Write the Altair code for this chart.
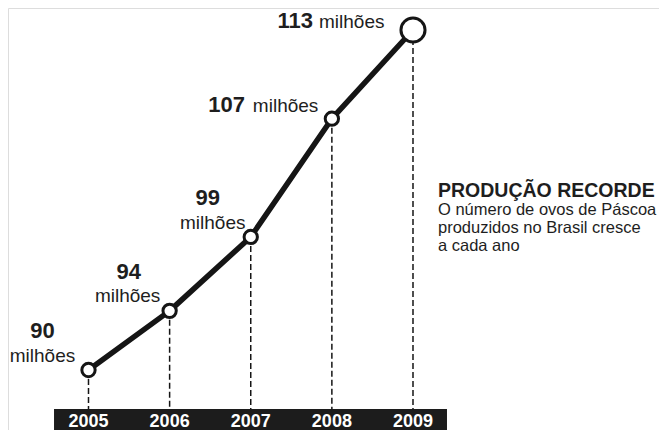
import altair as alt
import pandas as pd

# ---- data ----
years = [2005, 2006, 2007, 2008, 2009]
values = [90, 94, 99, 107, 113]
number_labels = ["90", "94", "99", "107", "113"]
unit_label = "milhões"
point_kind = ["small", "small", "small", "small", "big"]
title_text = "PRODUÇÃO RECORDE"
body_lines = ["O número de ovos de Páscoa", "produzidos no Brasil cresce", "a cada ano"]

# ---- layout / style ----
W, H = 651, 422
X_DOMAIN = [2004.0077, 2012.0324]
Y_DOMAIN = [85.941, 114.488]
BAR_X = [2004.575, 2009.419]
BAR_TOP = 87.362
INK = "#151515"
FONT = "Liberation Sans"

df = pd.DataFrame({"year": years, "value": values, "num": number_labels,
                   "unit": [unit_label] * len(years), "kind": point_kind})

xs = alt.Scale(domain=X_DOMAIN, nice=False, zero=False)
ys = alt.Scale(domain=Y_DOMAIN, nice=False, zero=False)
X = alt.X("year:Q", scale=xs, axis=None)
Y = alt.Y("value:Q", scale=ys, axis=None)

base = alt.Chart(df)

bar = alt.Chart(pd.DataFrame({"x0": [BAR_X[0]], "x1": [BAR_X[1]],
                              "y0": [Y_DOMAIN[0]], "y1": [BAR_TOP]})).mark_rect(
    color="#1c1c1c").encode(
    x=alt.X("x0:Q", scale=xs, axis=None), x2="x1:Q",
    y=alt.Y("y0:Q", scale=ys, axis=None), y2="y1:Q")

year_text = base.mark_text(font=FONT, fontSize=18, fontWeight="bold", color="white",
                           baseline="alphabetic", align="center", dy=-3).encode(
    x=X, y=alt.Y("yb:Q", scale=ys, axis=None), text="year:N"
).transform_calculate(yb=str(Y_DOMAIN[0]))

dashes = base.mark_rule(color=INK, strokeWidth=1.5, strokeDash=[6, 3]).encode(
    x=X, y=Y, y2=alt.datum(BAR_TOP))

line = base.mark_line(color=INK, strokeWidth=5.5, strokeCap="round", strokeJoin="round").encode(
    x=X, y=Y)

points = base.mark_point(shape="circle", filled=True, fill="white", stroke=INK,
                         strokeWidth=3, opacity=1).encode(
    x=X, y=Y,
    size=alt.Size("kind:N", scale=alt.Scale(domain=["small", "big"], range=[177, 580]),
                  legend=None))

# label offsets in pixels relative to each point: (num_align, num_dx, num_dy, unit_align, unit_dx, unit_dy)
offsets = [
    ("center", -46, -32, "center", -46, -8),
    ("center", -41, -32, "center", -42, -9),
    ("center", -43, -32, "center", -38, -8),
    ("right", -87, -7, "left", -79, -7),
    ("right", -100, -2, "left", -94, -2),
]

labels = []
for i, (na, ndx, ndy, ua, udx, udy) in enumerate(offsets):
    sub = alt.Chart(df.iloc[[i]])
    labels.append(sub.mark_text(font=FONT, fontSize=22, fontWeight="bold", color="#1e1e1e",
                                align=na, baseline="alphabetic", dx=ndx, dy=ndy).encode(
        x=X, y=Y, text="num:N"))
    labels.append(sub.mark_text(font=FONT, fontSize=19, color="#1e1e1e",
                                align=ua, baseline="alphabetic", dx=udx, dy=udy).encode(
        x=X, y=Y, text="unit:N"))

title = alt.Chart(pd.DataFrame({"t": [title_text]})).mark_text(
    font=FONT, fontSize=19.5, fontWeight="bold", color="#1e1e1e",
    align="left", baseline="alphabetic").encode(
    x=alt.value(430), y=alt.value(189), text="t:N")

body = alt.Chart(pd.DataFrame({"t": [body_lines]})).mark_text(
    font=FONT, fontSize=16.5, color="#1e1e1e", align="left", baseline="alphabetic",
    lineHeight=18).encode(
    x=alt.value(430), y=alt.value(207), text="t")

chart = alt.layer(bar, year_text, dashes, line, points, *labels, title, body).properties(
    width=W, height=H, padding=0, autosize=alt.AutoSizeParams(type="none")
).configure_view(stroke=None).configure(background="white")

chart.save("out.html", embed_options={"renderer": "svg", "actions": False})
